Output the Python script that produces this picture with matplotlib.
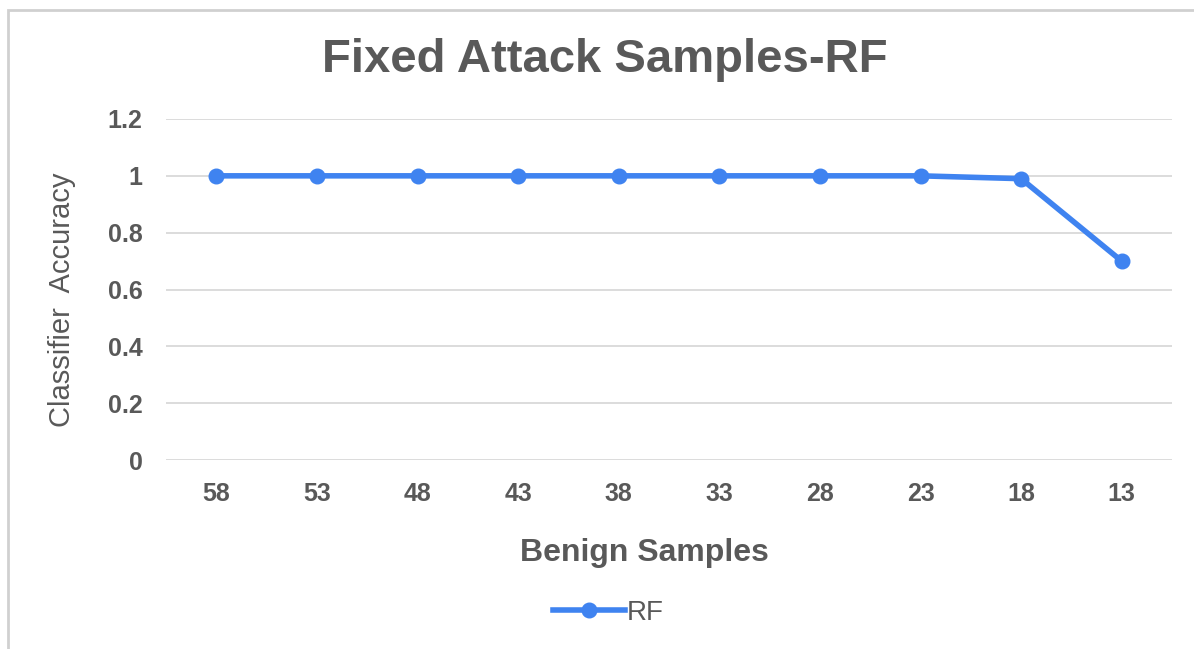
import matplotlib.pyplot as plt
from matplotlib.patches import Rectangle

# data
benign_samples = ['58', '53', '48', '43', '38', '33', '28', '23', '18', '13']
rf_accuracy = [1, 1, 1, 1, 1, 1, 1, 1, 0.99, 0.70]
y_ticks = [0, 0.2, 0.4, 0.6, 0.8, 1, 1.2]
y_tick_labels = ['0', '0.2', '0.4', '0.6', '0.8', '1', '1.2']

plt.rcParams['font.family'] = ['Liberation Sans', 'DejaVu Sans']
text_color = '#595959'
line_color = '#3f83f0'

fig = plt.figure(figsize=(11.94, 6.49), dpi=100)
fig.patches.append(Rectangle((8 / 1194, -0.1), 1.2, 1 - 10 / 649 + 0.1,
                             transform=fig.transFigure, fill=False,
                             edgecolor='#d0d0d0', linewidth=2))

ax = fig.add_axes([166 / 1194, 1 - 460 / 649, (1172 - 166) / 1194, (460 - 119) / 649])
x = list(range(len(benign_samples)))
ax.plot(x, rf_accuracy, color=line_color, linewidth=4, marker='o',
        markersize=10.5, label='RF', zorder=3)

ax.set_xlim(-0.5, len(benign_samples) - 0.5)
ax.set_ylim(0, 1.2)
ax.set_yticks(y_ticks)
ax.set_yticklabels(y_tick_labels)
ax.set_xticks(x)
ax.set_xticklabels(benign_samples)
ax.grid(axis='y', color='#d9d9d9', linewidth=1.3)
ax.set_axisbelow(True)
for s in ax.spines.values():
    s.set_visible(False)
ax.tick_params(length=0, labelsize=18, labelcolor=text_color, pad=16)
ax.tick_params(axis='y', pad=17)
for lbl in ax.get_xticklabels() + ax.get_yticklabels():
    lbl.set_fontweight('bold')

fig.text(605 / 1194, 1 - 60 / 649, 'Fixed Attack Samples-RF', ha='center', va='center',
         fontsize=34, fontweight='bold', color=text_color)
fig.text(644 / 1194, 1 - 553 / 649, 'Benign Samples', ha='center', va='center',
         fontsize=23, fontweight='bold', color=text_color)
fig.text(62 / 1194, 1 - 300 / 649, 'Classifier  Accuracy', ha='center', va='center',
         rotation=90, fontsize=21, color=text_color)

fig.legend(loc='center', bbox_to_anchor=(608 / 1194, 1 - 613 / 649), frameon=False,
           fontsize=20, labelcolor=text_color, handlelength=2.6, handletextpad=0.05)

fig.savefig('out.png', dpi=100)
